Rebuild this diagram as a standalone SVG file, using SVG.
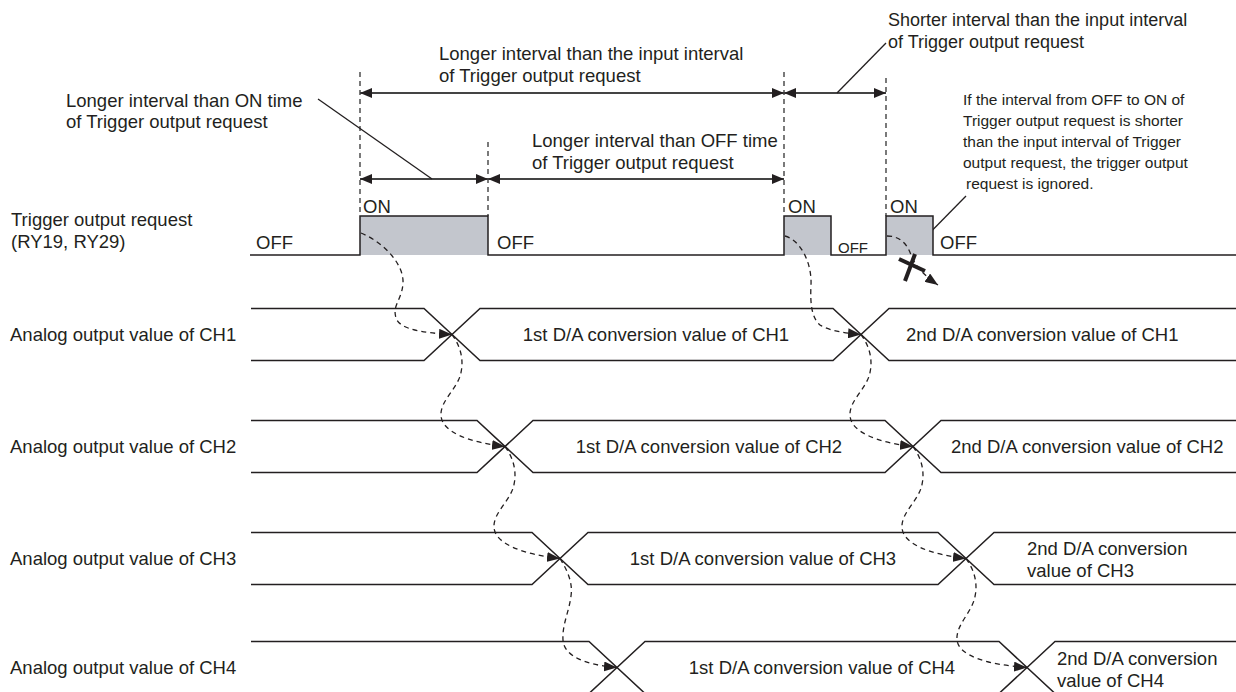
<svg xmlns="http://www.w3.org/2000/svg" width="1236" height="692" viewBox="0 0 1236 692">
<style>
text{font-family:"Liberation Sans",Arial,sans-serif;font-size:18.5px;fill:#231f20}
.note{font-size:15.5px}
.top{font-size:18px}
.sm{font-size:15px}
.sig{fill:none;stroke:#231f20;stroke-width:1.5}
.pulse{fill:#c3c6cd;stroke:none}
.vd{stroke:#333;stroke-width:1.3;stroke-dasharray:5,4;fill:none}
.dim{stroke:#444;stroke-width:2;fill:none}
.lead{stroke:#231f20;stroke-width:1.3;fill:none}
.flow{stroke:#231f20;stroke-width:1.3;stroke-dasharray:5,4;fill:none}
.xm{stroke:#231f20;stroke-width:4;stroke-linecap:butt}
</style>
<defs>
<marker id="dh" viewBox="0 0 12 10" refX="12" refY="5" markerWidth="12" markerHeight="10" markerUnits="userSpaceOnUse" orient="auto-start-reverse"><path d="M0,0 L12,5 L0,10 z" fill="#231f20"/></marker>
<marker id="fh" viewBox="0 0 13 10" refX="13" refY="5" markerWidth="13" markerHeight="10" markerUnits="userSpaceOnUse" orient="auto"><path d="M0,0 L13,5 L0,10 z" fill="#231f20"/></marker>
</defs>

<g id="annotations">
<line class="vd" x1="360" y1="72" x2="360" y2="216"/>
<line class="vd" x1="488" y1="142" x2="488" y2="216"/>
<line class="vd" x1="784" y1="72" x2="784" y2="216"/>
<line class="vd" x1="886" y1="78" x2="886" y2="216"/>
<line class="dim" x1="360" y1="93" x2="784" y2="93" marker-start="url(#dh)" marker-end="url(#dh)"/>
<line class="dim" x1="784" y1="93" x2="886" y2="93" marker-start="url(#dh)" marker-end="url(#dh)"/>
<line class="dim" x1="360" y1="179" x2="488" y2="179" marker-start="url(#dh)" marker-end="url(#dh)"/>
<line class="dim" x1="488" y1="179" x2="784" y2="179" marker-start="url(#dh)" marker-end="url(#dh)"/>
<line class="lead" x1="318" y1="99" x2="432" y2="179"/>
<line class="lead" x1="837" y1="93" x2="886" y2="43"/>
<line class="lead" x1="910" y1="253" x2="966" y2="196"/>
<text x="439" y="60">Longer interval than the input interval</text>
<text x="439" y="82">of Trigger output request</text>
<text x="66" y="107">Longer interval than ON time</text>
<text x="66" y="128">of Trigger output request</text>
<text x="532" y="147">Longer interval than OFF time</text>
<text x="532" y="169">of Trigger output request</text>
<text class="top" x="888" y="26">Shorter interval than the input interval</text>
<text class="top" x="888" y="48">of Trigger output request</text>
<text class="note" x="963" y="105">If the interval from OFF to ON of</text>
<text class="note" x="963" y="126">Trigger output request is shorter</text>
<text class="note" x="963" y="147">than the input interval of Trigger</text>
<text class="note" x="963" y="168">output request, the trigger output</text>
<text class="note" x="966" y="189">request is ignored.</text>
</g>

<g id="trigger">
<text x="11" y="226">Trigger output request</text>
<text x="11" y="248">(RY19, RY29)</text>
<rect class="pulse" x="360" y="216" width="128" height="39"/>
<rect class="pulse" x="784" y="216" width="47" height="39"/>
<rect class="pulse" x="886" y="216" width="47" height="39"/>
<path class="sig" d="M250,255 L360,255 L360,216 L488,216 L488,255 L784,255 L784,216 L831,216 L831,255 L886,255 L886,216 L933,216 L933,255 L1236,255"/>
<text x="256" y="249">OFF</text>
<text x="363" y="213">ON</text>
<text x="497" y="249">OFF</text>
<text x="788" y="213">ON</text>
<text class="sm" x="838" y="253">OFF</text>
<text x="890" y="213">ON</text>
<text x="940" y="249">OFF</text>
</g>

<g id="ch1">
<text x="10" y="341">Analog output value of CH1</text>
<path class="sig" d="M251,308.5 L424,308.5 L480,360.5 L833,360.5 L889,308.5 L1236,308.5"/>
<path class="sig" d="M251,360.5 L424,360.5 L480,308.5 L833,308.5 L889,360.5 L1236,360.5"/>
<text x="656" y="341" text-anchor="middle">1st D/A conversion value of CH1</text>
<text x="906" y="341">2nd D/A conversion value of CH1</text>
</g>

<g id="ch2">
<text x="10" y="453">Analog output value of CH2</text>
<path class="sig" d="M251,420.5 L477,420.5 L533,472.5 L885,472.5 L941,420.5 L1236,420.5"/>
<path class="sig" d="M251,472.5 L477,472.5 L533,420.5 L885,420.5 L941,472.5 L1236,472.5"/>
<text x="709" y="453" text-anchor="middle">1st D/A conversion value of CH2</text>
<text x="951" y="453">2nd D/A conversion value of CH2</text>
</g>

<g id="ch3">
<text x="10" y="565">Analog output value of CH3</text>
<path class="sig" d="M251,532.5 L532,532.5 L588,584.5 L938,584.5 L994,532.5 L1236,532.5"/>
<path class="sig" d="M251,584.5 L532,584.5 L588,532.5 L938,532.5 L994,584.5 L1236,584.5"/>
<text x="763" y="565" text-anchor="middle">1st D/A conversion value of CH3</text>
<text x="1027" y="555">2nd D/A conversion</text>
<text x="1027" y="577">value of CH3</text>
</g>

<g id="ch4">
<text x="10" y="674">Analog output value of CH4</text>
<path class="sig" d="M251,641.5 L589,641.5 L645,693.5 L999,693.5 L1055,641.5 L1236,641.5"/>
<path class="sig" d="M251,693.5 L589,693.5 L645,641.5 L999,641.5 L1055,693.5 L1236,693.5"/>
<text x="822" y="674" text-anchor="middle">1st D/A conversion value of CH4</text>
<text x="1057" y="665">2nd D/A conversion</text>
<text x="1057" y="687">value of CH4</text>
</g>

<g id="connectors">
<path class="flow" marker-end="url(#fh)" d="M361,233 C385,243 404,265 403,283 C402,300 392,305 396,318 C400,330 425,333 452,334.5"/>
<path class="flow" marker-end="url(#fh)" d="M785,236 C800,240 812,262 811,285 C810,305 812,318 820,325 C830,331 845,333 861,334.5"/>
<path class="flow" marker-end="url(#fh)" d="M452,334.5 C460,345.5 464,358.5 461,372.5 C458,388.5 440,400.5 441,415.5 C442,432.5 470,442.5 505,446.5"/>
<path class="flow" marker-end="url(#fh)" d="M861,334.5 C869,345.5 873,358.5 870,372.5 C867,388.5 849,400.5 850,415.5 C851,432.5 878,442.5 913,446.5"/>
<path class="flow" marker-end="url(#fh)" d="M505,446.5 C513,457.5 517,470.5 514,484.5 C511,500.5 493,512.5 494,527.5 C495,544.5 525,554.5 560,558.5"/>
<path class="flow" marker-end="url(#fh)" d="M913,446.5 C921,457.5 925,470.5 922,484.5 C919,500.5 901,512.5 902,527.5 C903,544.5 931,554.5 966,558.5"/>
<path class="flow" marker-end="url(#fh)" d="M560,558.5 C567,570 573,582 571,596 C569,612 562,625 563,640 C564,656 585,665 617,667.5"/>
<path class="flow" marker-end="url(#fh)" d="M966,558.5 C974,569.5 978,582.5 975,596.5 C972,612.5 956,624.5 957,639.5 C958,656.5 990,665 1027,667.5"/>
<path class="flow" marker-end="url(#fh)" d="M887,236 C899,236 907,243 911,255 C915,265 922,274 938,285"/>
<line class="xm" x1="899" y1="259" x2="925" y2="271"/>
<line class="xm" x1="915" y1="254" x2="905" y2="281"/>
</g>
</svg>
